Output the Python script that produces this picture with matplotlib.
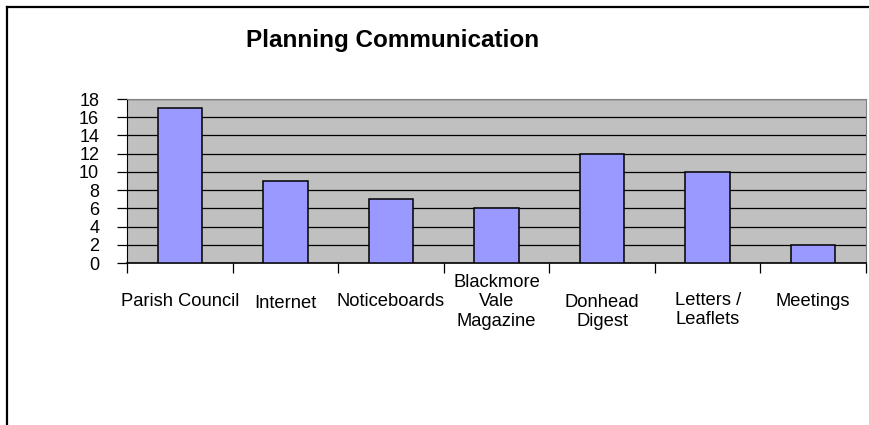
import matplotlib.pyplot as plt
from matplotlib.lines import Line2D
from matplotlib.transforms import blended_transform_factory

plt.rcParams['font.family'] = ['Liberation Sans', 'DejaVu Sans']

channels = ['Parish Council', 'Internet', 'Noticeboards', 'Blackmore\nVale\nMagazine',
            'Donhead\nDigest', 'Letters /\nLeaflets', 'Meetings']
responses = [17, 9, 7, 6, 12, 10, 2]
y_ticks = [0, 2, 4, 6, 8, 10, 12, 14, 16, 18]

# label vertical centres in pixels from top (Excel staggers them a little)
label_y_px = [302, 304, 302, 302, 312, 310, 302]

W, H = 869, 425
fig = plt.figure(figsize=(W / 100, H / 100), dpi=100)
fig.patch.set_facecolor('white')

# outer chart border, only left and top are inside the picture
fig.lines.append(Line2D([6.5 / W, 6.5 / W], [0, 1 - 7 / H], transform=fig.transFigure,
                        color='black', linewidth=1.6))
fig.lines.append(Line2D([6.5 / W, 1.01], [1 - 7 / H, 1 - 7 / H], transform=fig.transFigure,
                        color='black', linewidth=1.6))

ax = fig.add_axes([127 / W, 1 - 263 / H, 739 / W, 164 / H])
ax.set_facecolor('#C0C0C0')

x = range(len(channels))
ax.bar(x, responses, width=0.42, color='#9999FF', edgecolor='black', linewidth=1.1, zorder=3)

ax.set_xlim(-0.5, len(channels) - 0.5)
ax.set_ylim(0, 18)
ax.set_yticks(y_ticks)
ax.yaxis.grid(True, color='black', linewidth=0.9)
ax.set_axisbelow(True)
ax.tick_params(axis='y', length=7, width=0.9, labelsize=13, pad=13)

ax.set_xticks([i - 0.5 for i in range(len(channels) + 1)])
ax.set_xticklabels([])
ax.tick_params(axis='x', length=7, width=0.9, direction='out')

for side in ['top', 'right']:
    ax.spines[side].set_color('#808080')
ax.spines['left'].set_color('black')
ax.spines['bottom'].set_color('black')
ax.spines['bottom'].set_linewidth(1.2)

trans = blended_transform_factory(ax.transData, fig.transFigure)
for i, name in enumerate(channels):
    ax.text(i, 1 - label_y_px[i] / H, name, transform=trans, ha='center', va='center',
            fontsize=13.2, multialignment='center', linespacing=1.2)

fig.text(393 / W, 1 - 41 / H, 'Planning Communication', ha='center', va='center',
         fontsize=17.5, fontweight='bold')

fig.savefig('out.png', dpi=100)
